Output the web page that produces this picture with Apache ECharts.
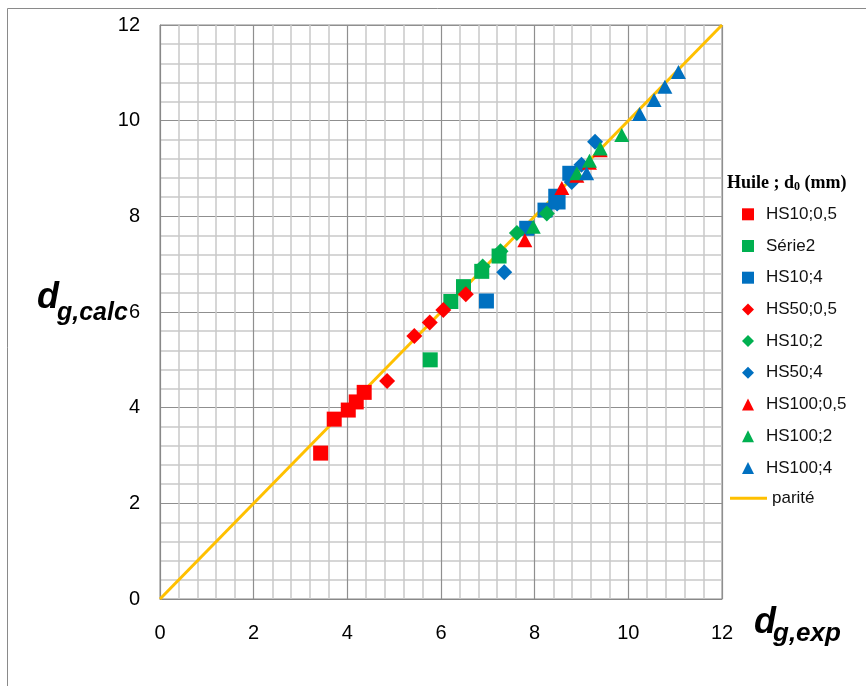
<!DOCTYPE html>
<html><head><meta charset="utf-8">
<script src="https://cdn.jsdelivr.net/npm/echarts@6/dist/echarts.min.js"></script>
<style>html,body{margin:0;padding:0;background:#fff}#c{width:866px;height:686px}</style>
</head><body><div id="c"></div>
<script>
// Data (x = d_g,exp ; y = d_g,calc)
const seriesNames = ['HS10;0,5','Série2','HS10;4','HS50;0,5','HS10;2','HS50;4','HS100;0,5','HS100;2','HS100;4'];
const HS10_05  = [[3.43,3.05],[3.72,3.76],[4.02,3.95],[4.19,4.12],[4.36,4.32]];
const Serie2   = [[5.77,5.00],[6.21,6.22],[6.48,6.53],[6.87,6.85],[7.24,7.17]];
const HS10_4   = [[6.97,6.23],[7.83,7.75],[8.22,8.13],[8.45,8.42],[8.50,8.30],[8.75,8.90]];
const HS50_05  = [[4.85,4.56],[5.43,5.50],[5.76,5.78],[6.05,6.04],[6.53,6.37]];
const HS10_2   = [[6.89,6.95],[7.27,7.27],[7.62,7.65],[8.26,8.06]];
const HS50_4   = [[7.35,6.83],[8.48,8.27],[8.79,8.72],[9.00,9.08],[9.29,9.56]];
const HS100_05 = [[7.79,7.50],[8.58,8.59],[8.90,8.85],[9.17,9.12],[9.40,9.38]];
const HS100_2  = [[7.97,7.78],[8.90,8.90],[9.17,9.16],[9.40,9.42],[9.86,9.70]];
const HS100_4  = [[9.11,8.90],[10.24,10.14],[10.55,10.43],[10.78,10.71],[11.07,11.02]];
const parite   = [[0,0],[12,12]];
const axisTicks = [0,2,4,6,8,10,12];

const RED='#ff0000', GREEN='#00b050', BLUE='#0070c0', GOLD='#ffc000';
const seriesData = [HS10_05,Serie2,HS10_4,HS50_05,HS10_2,HS50_4,HS100_05,HS100_2,HS100_4];
const colors = [RED,GREEN,BLUE,RED,GREEN,BLUE,RED,GREEN,BLUE];
const symbols = ['rect','rect','rect','diamond','diamond','diamond','triangle','triangle','triangle'];
const sizes = [15,15,15,16,16,16,[15,14],[15,14],[15,14]];

const chart = echarts.init(document.getElementById('c'));
const series = [{
  name:'parité', type:'line', data: parite, symbol:'none', showSymbol:false,
  lineStyle:{color:GOLD,width:3}, itemStyle:{color:GOLD}, z:1, silent:true
}];
seriesData.forEach((d,i)=>series.push({
  name: seriesNames[i], type:'scatter', data:d, symbol:symbols[i], symbolSize:sizes[i],
  itemStyle:{color:colors[i], opacity:1}, z:2+i
}));

const axisCommon = {
  type:'value', min:axisTicks[0], max:axisTicks[axisTicks.length-1], interval:2,
  axisLine:{show:true,lineStyle:{color:'#888',width:1}},
  axisTick:{show:false},
  minorTick:{show:false, splitNumber:5},
  splitLine:{show:true,lineStyle:{color:'#8f8f8f',width:1.2}},
  minorSplitLine:{show:true,lineStyle:{color:'#c9c9c9',width:1.5}},
  axisLabel:{color:'#000',fontFamily:'Liberation Sans, Arial',fontSize:20}
};
const xAxis = Object.assign({}, axisCommon, {axisLabel:Object.assign({},axisCommon.axisLabel,{margin:24})});
const yAxis = Object.assign({}, axisCommon, {axisLabel:Object.assign({},axisCommon.axisLabel,{margin:20})});

chart.setOption({
  animation:false,
  backgroundColor:'#fff',
  grid:{left:160,top:25,right:144,bottom:87,show:true,borderColor:'#888',borderWidth:1,backgroundColor:'transparent'},
  xAxis, yAxis,
  legend:[{
    data: seriesNames, orient:'vertical', left:737, top:200.8, itemWidth:12, itemHeight:12,
    itemGap:14.7, selectedMode:false,
    textStyle:{color:'#111',fontFamily:'Liberation Sans, Arial',fontSize:17,lineHeight:17,padding:[0,0,0,7]}
  },{
    data:[{name:'parité', icon:'rect'}], orient:'vertical', left:725, top:484.8, itemWidth:37, itemHeight:3,
    selectedMode:false, itemStyle:{color:GOLD},
    textStyle:{color:'#111',fontFamily:'Liberation Sans, Arial',fontSize:17,lineHeight:17}
  }],
  graphic:[
    {type:'rect', left:5, top:6, shape:{width:880,height:700}, style:{fill:'none',stroke:'#8a8a8a',lineWidth:1}, z:-10},
    {type:'text', x:37, y:298, style:{text:'d', font:'italic bold 36px "Liberation Sans", Arial', fill:'#000', verticalAlign:'middle'}},
    {type:'text', x:57, y:313, style:{text:'g,calc', font:'italic bold 25px "Liberation Sans", Arial', fill:'#000', verticalAlign:'middle'}},
    {type:'text', x:754, y:623, style:{text:'d', font:'italic bold 36px "Liberation Sans", Arial', fill:'#000', verticalAlign:'middle'}},
    {type:'text', x:773, y:634, style:{text:'g,exp', font:'italic bold 26px "Liberation Sans", Arial', fill:'#000', verticalAlign:'middle'}},
    {type:'text', x:727, y:183, style:{
      text:'{a|Huile ; d}{b|0}{a| (mm)}', verticalAlign:'middle', fill:'#000',
      rich:{
        a:{fontFamily:'Liberation Serif, Times New Roman',fontWeight:'bold',fontSize:18,fill:'#000'},
        b:{fontFamily:'Liberation Serif, Times New Roman',fontWeight:'bold',fontSize:12,fill:'#000',lineHeight:12,padding:[8,0,0,0]}
      }}}
  ],
  series
});
</script></body></html>
